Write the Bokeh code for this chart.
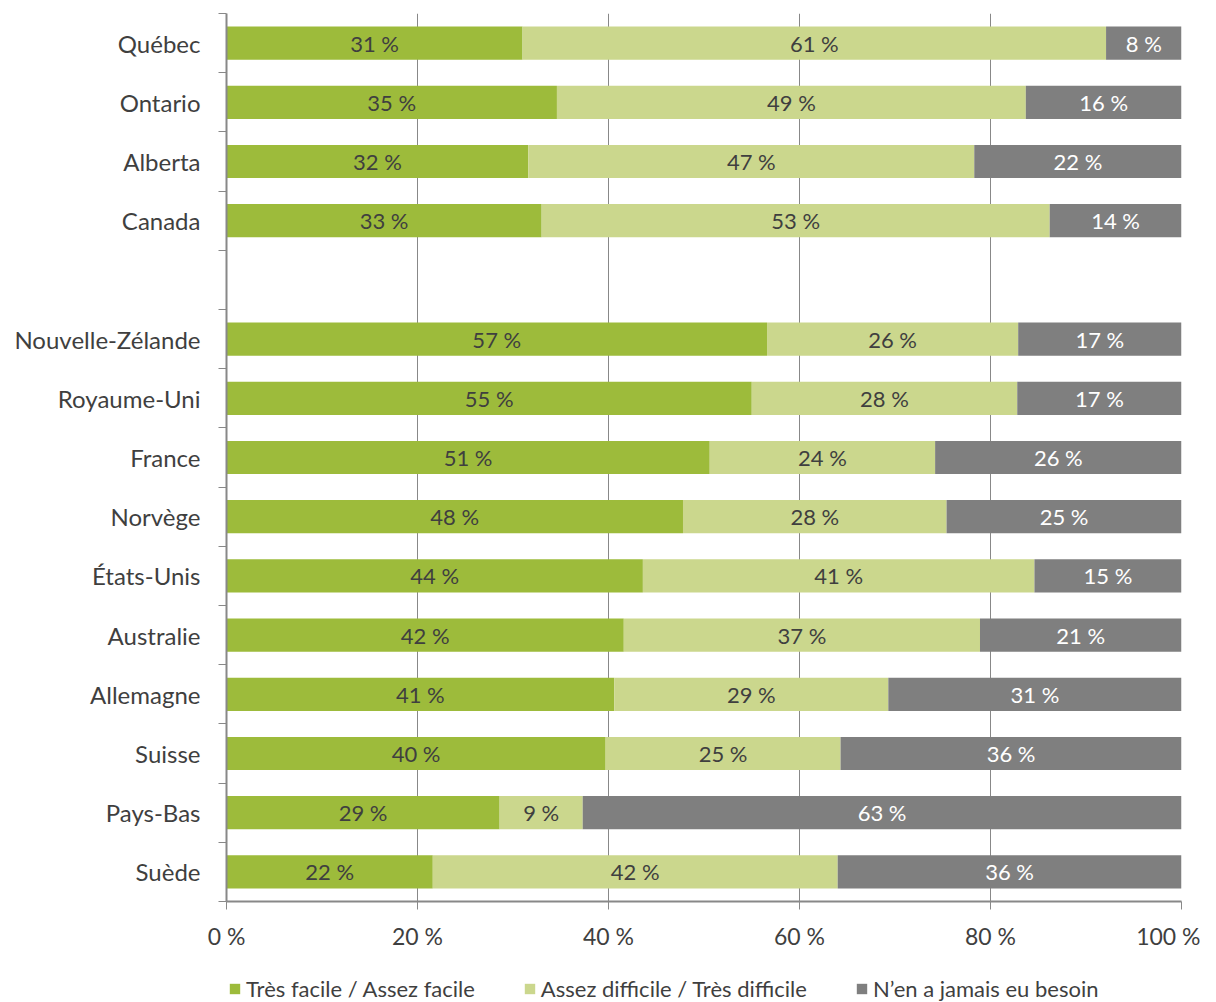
from bokeh.plotting import figure
from bokeh.layouts import column
from bokeh.models import Range1d, LinearAxis, FixedTicker, Legend, LegendItem, ColumnDataSource
from bokeh.core.properties import value
from bokeh.embed import file_html
from bokeh.resources import INLINE

# ---- data ----
regions = ["Québec", "Ontario", "Alberta", "Canada",
           "Nouvelle-Zélande", "Royaume-Uni", "France", "Norvège", "États-Unis",
           "Australie", "Allemagne", "Suisse", "Pays-Bas", "Suède"]
gap_after = "Canada"
easy = [31.0, 34.6, 31.6, 33.0, 56.6, 55.0, 50.6, 47.8, 43.6, 41.6, 40.6, 39.7, 28.6, 21.6]
hard = [61.1, 49.1, 46.7, 53.2, 26.3, 27.8, 23.6, 27.6, 41.0, 37.3, 28.7, 24.6, 8.7, 42.4]
never = [7.9, 16.3, 21.7, 13.8, 17.1, 17.2, 25.8, 24.6, 15.4, 21.1, 30.7, 35.7, 62.7, 36.0]
series_names = ["Très facile / Assez facile", "Assez difficile / Très difficile", "N’en a jamais eu besoin"]
x_ticks = [0, 20, 40, 60, 80, 100]

colors = ["#9DBB3B", "#CBD78D", "#7F7F7F"]
text_colors = ["#3F3F3F", "#3F3F3F", "#FFFFFF"]
FONT = "Lato"
AXIS_COLOR = "#888888"

# row positions (one empty row after gap_after)
gap_idx = regions.index(gap_after)
pos = [i + (1 if i > gap_idx else 0) for i in range(len(regions))]
n_rows = len(regions) + 1
ycent = [p_ + 0.5 for p_ in pos]

p = figure(frame_width=955, frame_height=888,
           min_border_left=226, min_border_top=13, min_border_right=19, min_border_bottom=61,
           x_range=Range1d(0, 100), y_range=Range1d(n_rows, 0),
           y_axis_location=None, output_backend="svg", toolbar_location=None)
p.outline_line_color = None
p.ygrid.visible = False
p.xgrid.grid_line_color = AXIS_COLOR
p.xgrid.grid_line_width = 1

series = [easy, hard, never]
left = [0.0] * len(regions)
for k, vals in enumerate(series):
    right = [l + v for l, v in zip(left, vals)]
    src = ColumnDataSource(dict(
        y=ycent, left=left, right=right,
        mid=[(l + r) / 2 for l, r in zip(left, right)],
        lab=[f"{round(v)} %" for v in vals]))
    p.hbar(y="y", left="left", right="right", height=0.56, source=src,
           fill_color=colors[k], line_color=None)
    p.text(x="mid", y="y", text="lab", source=src, text_align="center", text_baseline="middle",
           text_font=value(FONT), text_font_size="22px", text_color=text_colors[k])
    left = right

# x axis
xa = p.xaxis[0]
xa.ticker = FixedTicker(ticks=x_ticks)
xa.major_label_overrides = {t: f"{t} %" for t in x_ticks}
xa.major_tick_out = 8
xa.major_tick_in = 0
xa.minor_tick_line_color = None
xa.axis_line_color = AXIS_COLOR
xa.axis_line_width = 2
xa.major_tick_line_color = AXIS_COLOR
xa.major_label_text_font = FONT
xa.major_label_text_font_size = "23px"
xa.major_label_text_color = "#3F3F3F"
xa.major_label_standoff = 12
p.xgrid.ticker = FixedTicker(ticks=x_ticks)

# y axis: tick marks at row boundaries
bounds = list(range(n_rows + 1))
tick_axis = LinearAxis(ticker=FixedTicker(ticks=bounds),
                       major_label_overrides={b: "" for b in bounds},
                       major_tick_out=8, major_tick_in=0,
                       minor_tick_line_color=None,
                       axis_line_color=AXIS_COLOR, axis_line_width=2,
                       major_tick_line_color=AXIS_COLOR,
                       major_label_standoff=0, major_label_text_font_size="1px")
label_axis = LinearAxis(ticker=FixedTicker(ticks=ycent),
                        major_label_overrides={c: n for c, n in zip(ycent, regions)},
                        major_tick_out=0, major_tick_in=0,
                        minor_tick_line_color=None, major_tick_line_color=None,
                        axis_line_color=None,
                        major_label_standoff=18,
                        major_label_text_font=FONT, major_label_text_font_size="24px",
                        major_label_text_color="#3F3F3F")
p.add_layout(tick_axis, "left")
p.add_layout(label_axis, "left")

# legend strip underneath (dummy renderers lie outside the strip's visible range)
lg = figure(width=1200, height=40, min_border=0, x_range=Range1d(0, 1), y_range=Range1d(0, 1),
            x_axis_location=None, y_axis_location=None,
            output_backend="svg", toolbar_location=None)
lg.outline_line_color = None
lg.xgrid.visible = False
lg.ygrid.visible = False
items = []
for n, c in zip(series_names, colors):
    r = lg.hbar(y=[-5], left=[0], right=[1], height=1, fill_color=c, line_color=None)
    items.append(LegendItem(label=n, renderers=[r]))
legend = Legend(items=items, orientation="horizontal", location=(2, 0),
                label_text_font=FONT, label_text_font_size="22px", label_text_color="#3F3F3F",
                glyph_width=13, glyph_height=13, label_standoff=5, spacing=48,
                padding=0, margin=0, border_line_color=None, background_fill_alpha=0)
lg.add_layout(legend)

open("out.html", "w").write(file_html(column(p, lg, spacing=0), INLINE))
